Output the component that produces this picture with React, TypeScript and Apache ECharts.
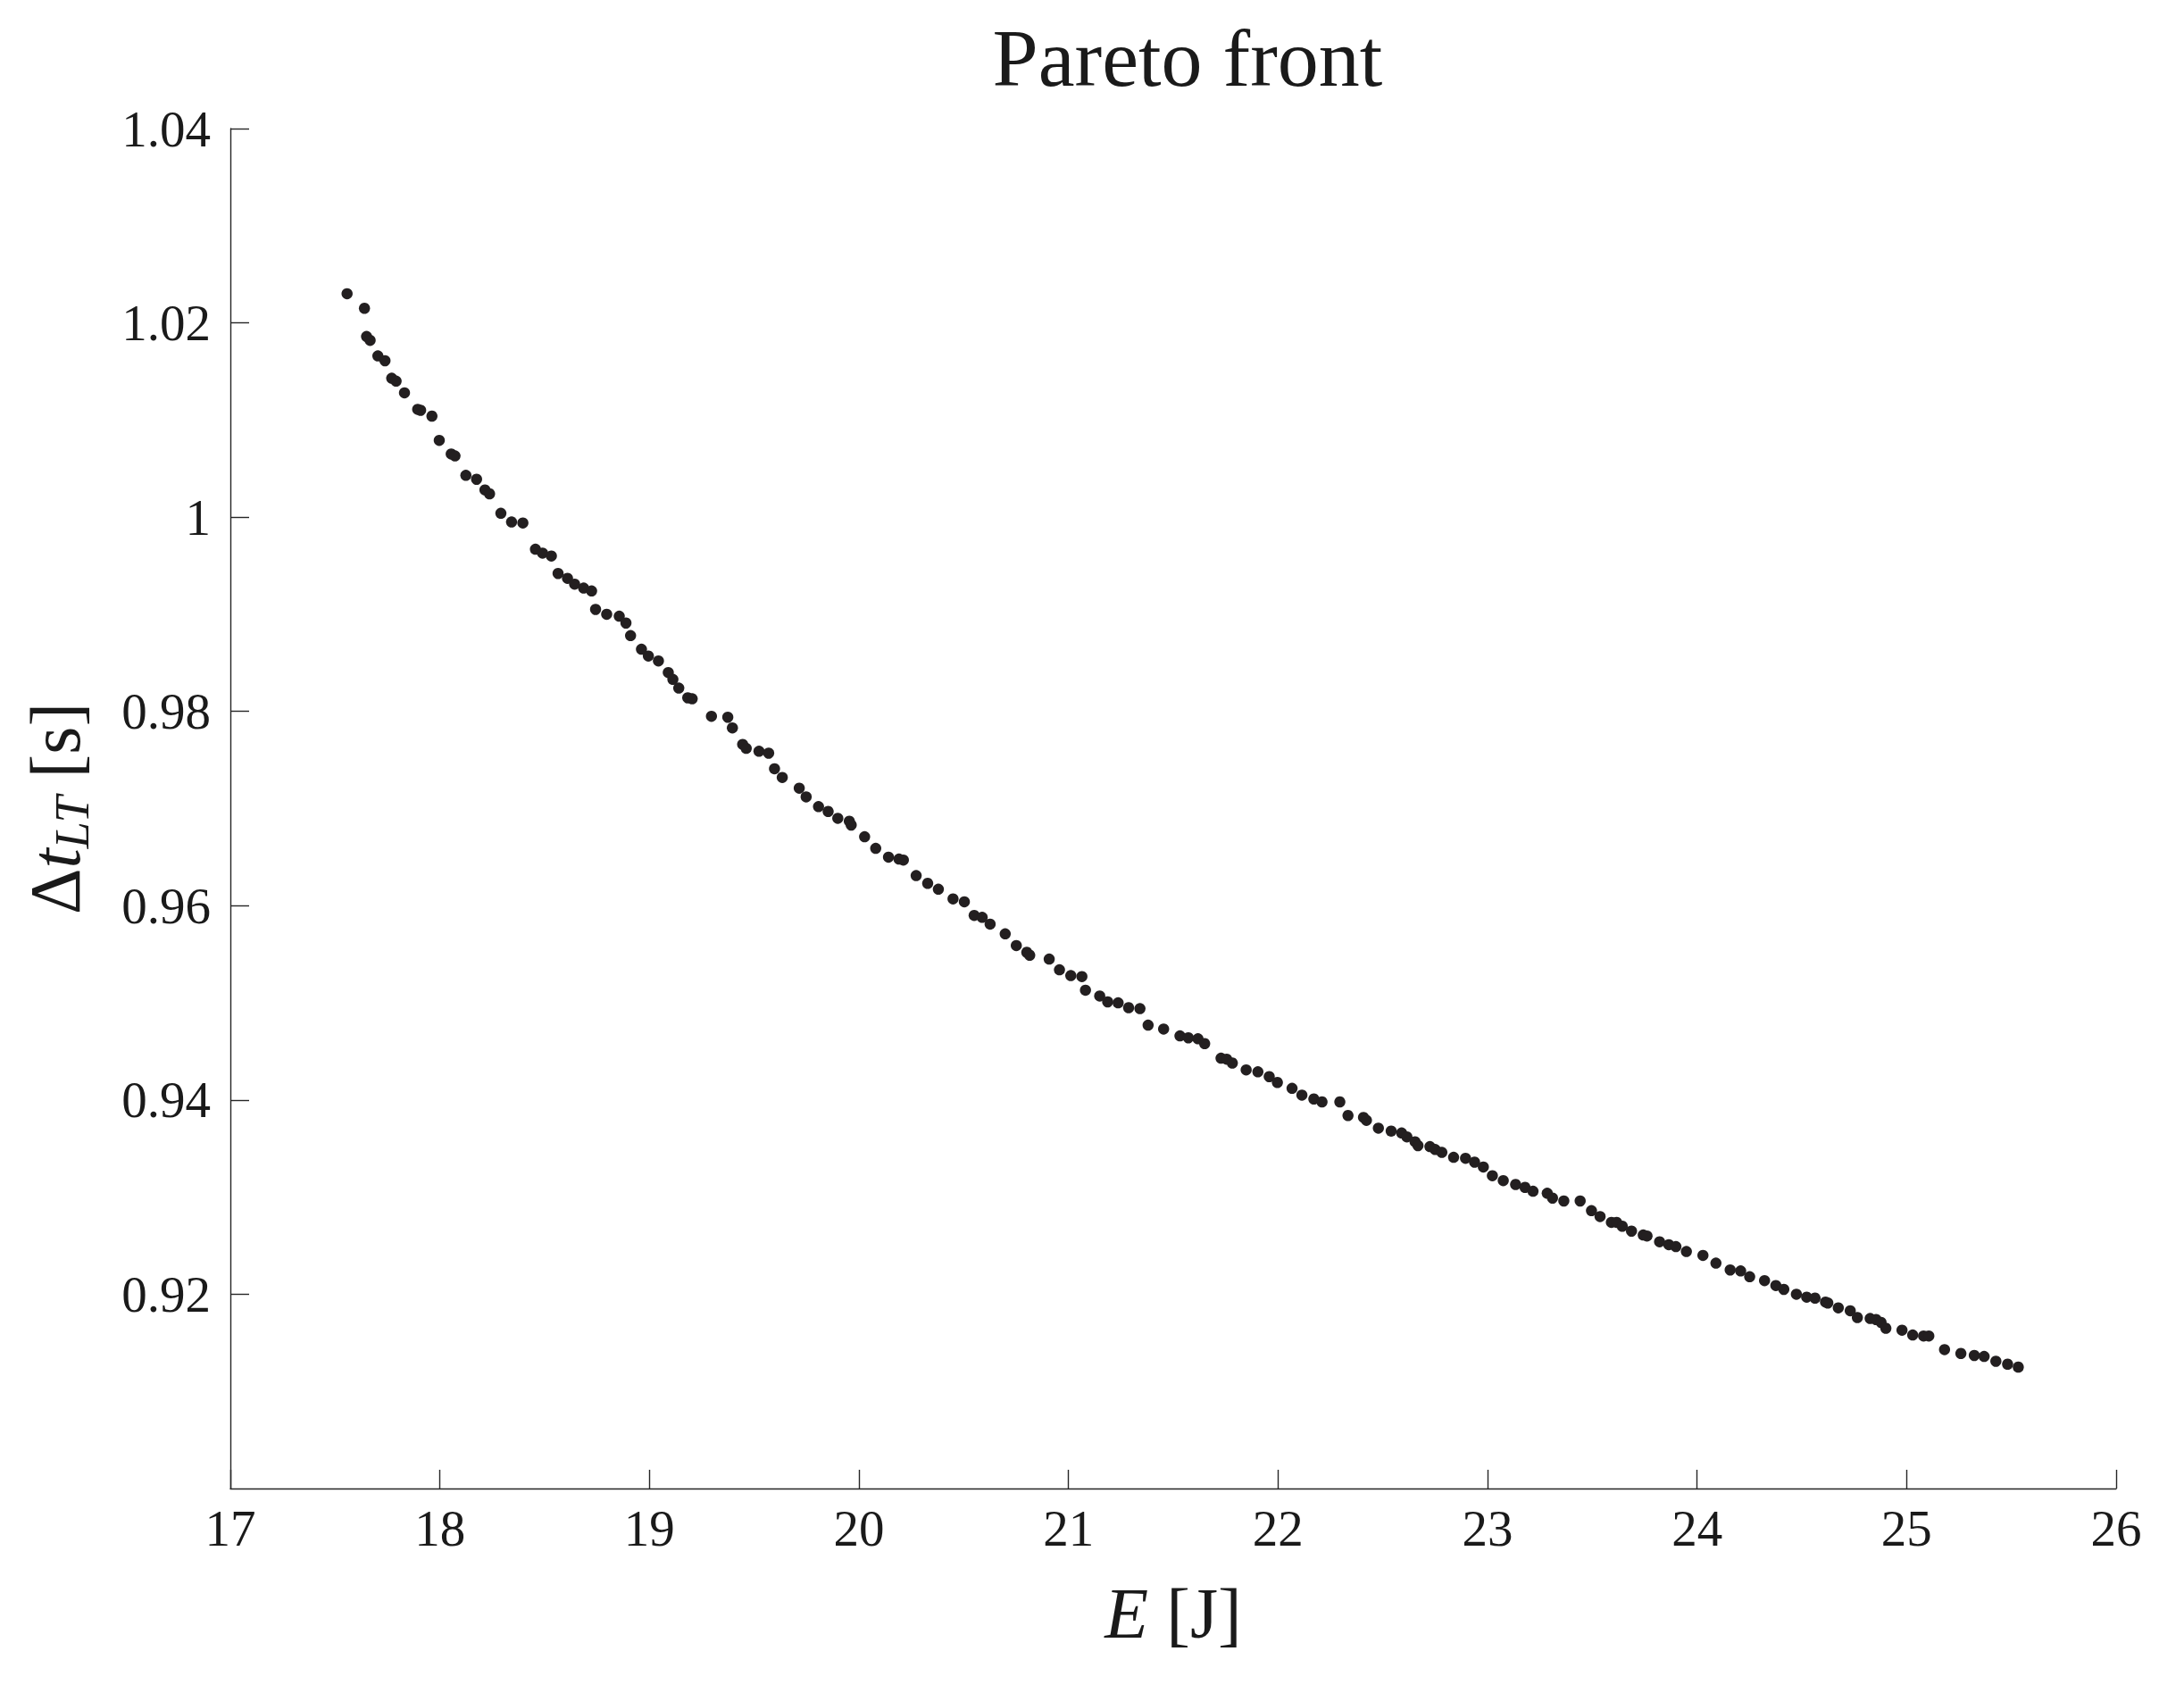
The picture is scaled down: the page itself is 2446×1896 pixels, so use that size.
import React, { useEffect, useRef } from "react";
import * as echarts from "echarts";

// Energy E [J]
const energy: number[] = [
  17.557, 17.64, 17.65, 17.667, 17.704, 17.738, 17.77, 17.791, 17.831, 17.894,
  17.908, 17.962, 17.997, 18.054, 18.072, 18.124, 18.175, 18.215, 18.237, 18.291,
  18.342, 18.396, 18.456, 18.49, 18.532, 18.564, 18.609, 18.643, 18.686, 18.724,
  18.743, 18.796, 18.856, 18.888, 18.91, 18.962, 18.995, 19.043, 19.09, 19.112,
  19.14, 19.183, 19.204, 19.296, 19.374, 19.396, 19.445, 19.462, 19.523, 19.569,
  19.597, 19.634, 19.715, 19.748, 19.807, 19.853, 19.899, 19.954, 19.963, 20.027,
  20.08, 20.141, 20.191, 20.212, 20.273, 20.328, 20.379, 20.449, 20.503, 20.55,
  20.588, 20.626, 20.698, 20.751, 20.801, 20.815, 20.908, 20.957, 21.011, 21.064,
  21.081, 21.149, 21.187, 21.237, 21.287, 21.341, 21.38, 21.454, 21.532, 21.572,
  21.618, 21.65, 21.728, 21.755, 21.782, 21.848, 21.904, 21.958, 21.997, 22.067,
  22.114, 22.171, 22.21, 22.295, 22.334, 22.408, 22.422, 22.479, 22.54, 22.59,
  22.615, 22.654, 22.668, 22.725, 22.75, 22.782, 22.838, 22.895, 22.938, 22.98,
  23.023, 23.075, 23.134, 23.179, 23.217, 23.285, 23.31, 23.364, 23.442, 23.496,
  23.537, 23.591, 23.616, 23.643, 23.687, 23.743, 23.761, 23.821, 23.865, 23.899,
  23.949, 24.028, 24.09, 24.158, 24.208, 24.251, 24.322, 24.376, 24.414, 24.474,
  24.523, 24.563, 24.613, 24.624, 24.674, 24.731, 24.765, 24.826, 24.854, 24.878,
  24.901, 24.978, 25.029, 25.081, 25.106, 25.181, 25.259, 25.323, 25.37, 25.426,
  25.482, 25.533,
];

// Delta t_LT [s]
const deltaT: number[] = [
  1.023, 1.0215, 1.0186, 1.0182, 1.0166, 1.0161, 1.0143, 1.014, 1.0128, 1.0111,
  1.011, 1.0104, 1.0079, 1.0065, 1.0063, 1.0043, 1.0039, 1.0028, 1.0024, 1.0004,
  0.9995, 0.9994, 0.9967, 0.9963, 0.996, 0.9942, 0.9937, 0.9931, 0.9927, 0.9924,
  0.9905, 0.99, 0.9898, 0.9891, 0.9878, 0.9864, 0.9857, 0.9852, 0.984, 0.9833,
  0.9824, 0.9814, 0.9813, 0.9795, 0.9794, 0.9783, 0.9766, 0.9762, 0.9759, 0.9757,
  0.9741, 0.9732, 0.9721, 0.9712, 0.9702, 0.9697, 0.969, 0.9687, 0.9683, 0.9671,
  0.9659, 0.965, 0.9648, 0.9647, 0.9631, 0.9623, 0.9617, 0.9607, 0.9604, 0.959,
  0.9588, 0.9581, 0.9571, 0.9559, 0.9552, 0.9549, 0.9545, 0.9534, 0.9528, 0.9527,
  0.9513, 0.9507, 0.9501, 0.95, 0.9495, 0.9494, 0.9477, 0.9473, 0.9466, 0.9464,
  0.9463, 0.9458, 0.9443, 0.9442, 0.9438, 0.9431, 0.9429, 0.9424, 0.9418, 0.9412,
  0.9405, 0.9401, 0.9398, 0.9398, 0.9384, 0.9382, 0.9379, 0.9371, 0.9368, 0.9366,
  0.9362, 0.9357, 0.9353, 0.9352, 0.9349, 0.9346, 0.9341, 0.934, 0.9336, 0.9331,
  0.9322, 0.9317, 0.9313, 0.931, 0.9306, 0.9304, 0.9299, 0.9296, 0.9296, 0.9286,
  0.928, 0.9274, 0.9274, 0.927, 0.9265, 0.9261, 0.926, 0.9254, 0.9251, 0.9249,
  0.9244, 0.924, 0.9232, 0.9225, 0.9224, 0.9218, 0.9214, 0.9209, 0.9205, 0.92,
  0.9197, 0.9196, 0.9192, 0.9191, 0.9186, 0.9183, 0.9176, 0.9175, 0.9174, 0.9171,
  0.9165, 0.9163, 0.9158, 0.9157, 0.9157, 0.9143, 0.9139, 0.9137, 0.9136, 0.9131,
  0.9128, 0.9125,
];

const xTicks = { min: 17, max: 26, interval: 1 };
const yTicks = { min: 0.9, max: 1.04, interval: 0.02 };

const TEXT = "#1a1a1a";
const FONT = "Liberation Serif";

export default function App() {
  const ref = useRef<HTMLDivElement>(null);
  useEffect(() => {
    document.body.style.margin = "0";
    if (!ref.current) return;
    const chart = echarts.init(ref.current, undefined, { renderer: "svg" });
    const points = energy.map((e, i) => [e, deltaT[i]]);
    chart.setOption({
      animation: false,
      backgroundColor: "#ffffff",
      title: {
        text: "Pareto front",
        left: 1325,
        textAlign: "center",
        top: 14,
        textStyle: { fontFamily: FONT, fontSize: 92, fontWeight: "normal", color: TEXT },
      },
      grid: { left: 258, right: 76, top: 144, bottom: 229, containLabel: false },
      xAxis: {
        type: "value",
        min: xTicks.min,
        max: xTicks.max,
        interval: xTicks.interval,
        name: "{i|E} {n|[J]}",
        nameLocation: "middle",
        nameGap: 100,
        nameTextStyle: {
          fontFamily: FONT,
          fontSize: 80,
          color: TEXT,
          rich: {
            i: { fontFamily: FONT, fontSize: 80, fontStyle: "italic", color: TEXT },
            n: { fontFamily: FONT, fontSize: 80, color: TEXT },
          },
        },
        axisLine: { show: true, lineStyle: { color: "#262626", width: 1.4 } },
        axisTick: { show: true, inside: true, length: 21, lineStyle: { color: "#262626", width: 1.4 } },
        axisLabel: { fontFamily: FONT, fontSize: 57, color: TEXT, margin: 16 },
        splitLine: { show: false },
      },
      yAxis: {
        type: "value",
        min: yTicks.min,
        max: yTicks.max,
        interval: yTicks.interval,
        name: "{d|Δ}{t|t}{s|LT} {n|[s]}",
        nameLocation: "middle",
        nameRotate: 90,
        nameGap: 150,
        nameTextStyle: {
          fontFamily: FONT,
          fontSize: 80,
          color: TEXT,
          rich: {
            d: { fontFamily: FONT, fontSize: 80, color: TEXT, lineHeight: 92, verticalAlign: "middle" },
            t: { fontFamily: FONT, fontSize: 80, fontStyle: "italic", color: TEXT, lineHeight: 92, verticalAlign: "middle" },
            s: { fontFamily: FONT, fontSize: 54, fontStyle: "italic", color: TEXT, lineHeight: 54, padding: [38, 0, 0, 0], verticalAlign: "bottom" },
            n: { fontFamily: FONT, fontSize: 80, color: TEXT, lineHeight: 92, verticalAlign: "middle" },
          },
        },
        axisLine: { show: true, lineStyle: { color: "#262626", width: 1.4 } },
        axisTick: { show: true, inside: true, length: 21, lineStyle: { color: "#262626", width: 1.4 } },
        axisLabel: {
          fontFamily: FONT,
          fontSize: 57,
          color: TEXT,
          margin: 22,
          showMinLabel: false,
          formatter: (v: number) => String(parseFloat(v.toFixed(2))),
        },
        splitLine: { show: false },
      },
      series: [
        {
          type: "scatter",
          data: points,
          symbol: "circle",
          symbolSize: 12.5,
          itemStyle: { color: "#231f20", opacity: 1 },
        },
      ],
    });
    return () => chart.dispose();
  }, []);
  return <div ref={ref} style={{ width: 2446, height: 1896 }} />;
}
